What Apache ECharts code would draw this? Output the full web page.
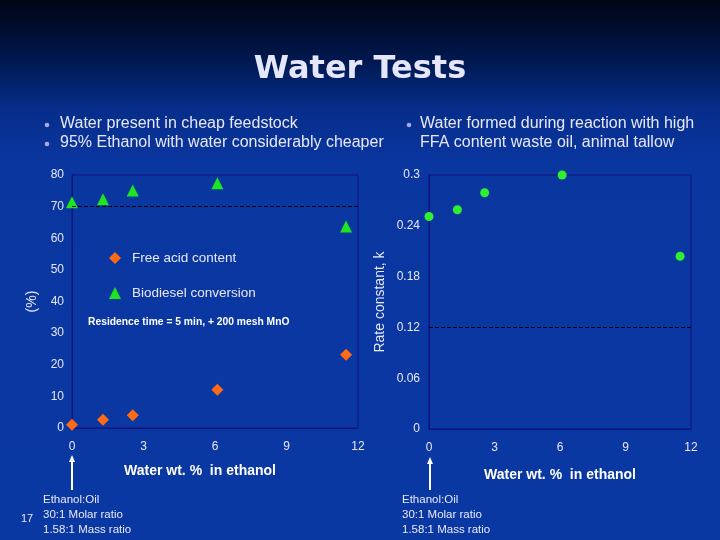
<!DOCTYPE html>
<html>
<head>
<meta charset="utf-8">
<script src="https://cdn.jsdelivr.net/npm/echarts@6/dist/echarts.min.js"></script>
<style>html,body{margin:0;padding:0;background:#0a37a0;}#c{width:720px;height:540px;}</style>
</head>
<body>
<div id="c"></div>
<script>
// ---- data ----
const waterPct = [0, 1.3, 2.55, 6.1, 11.5];
const freeAcid = [1.0, 2.6, 4.0, 12.1, 23.2];
const biodiesel = [71.4, 72.3, 75.1, 77.4, 63.7];
const rateK = [0.251, 0.259, 0.279, 0.300, 0.204];
const xTicks = [0, 3, 6, 9, 12];
const leftYTicks = [0, 10, 20, 30, 40, 50, 60, 70, 80];
const rightYTicks = [0, 0.06, 0.12, 0.18, 0.24, 0.3];
const seriesNames = ['Free acid content', 'Biodiesel conversion'];
const titleText = 'Water Tests';
const bulletsLeft = ['Water present in cheap feedstock', '95% Ethanol with water considerably cheaper'];
const bulletsRight = ['Water formed during reaction with high', 'FFA content waste oil, animal tallow'];
const noteLines = ['Ethanol:Oil', '30:1 Molar ratio', '1.58:1 Mass ratio'];
const xAxisName = 'Water wt. %  in ethanol';

const pair = (xs, ys) => xs.map((x, i) => [x, ys[i]]);

const textCol = '#e8e8f8';
const frameCol = '#12127a';
const tickFont = { color: textCol, fontFamily: 'Liberation Sans', fontSize: 12 };

const chart = echarts.init(document.getElementById('c'), null, { renderer: 'canvas' });

function arrow(x, yTip, yBase) {
  return [
    { type: 'line', shape: { x1: x, y1: yBase, x2: x, y2: yTip + 5 }, style: { stroke: '#ffffff', lineWidth: 2 } },
    { type: 'polygon', shape: { points: [[x, yTip], [x - 3, yTip + 7], [x + 3, yTip + 7]] }, style: { fill: '#ffffff' } }
  ];
}

const graphics = [
  { type: 'rect', z: -100, shape: { x: 0, y: 0, width: 720, height: 540 },
    style: { fill: new echarts.graphic.LinearGradient(0, 0, 0, 1, [
      { offset: 0, color: '#000616' }, { offset: 0.05, color: '#000c2c' },
      { offset: 0.12, color: '#001a55' }, { offset: 0.2, color: '#062d8a' },
      { offset: 0.3, color: '#0a36a0' }, { offset: 1, color: '#0a38a2' }]) } },
  { type: 'text', x: 360, y: 70, style: { text: titleText, fill: '#e6e6fa', font: 'bold 32px "DejaVu Sans"', align: 'center', verticalAlign: 'middle' } },
];
const bullet = (cx, cy) => ({ type: 'circle', shape: { cx: cx, cy: cy, r: 2.3 }, style: { fill: '#a8a8e8' } });
bulletsLeft.forEach((t, i) => {
  graphics.push(bullet(47, 125 + i * 19));
  graphics.push({ type: 'text', x: 60, y: 124 + i * 19, style: { text: t, fill: textCol, font: '16px "Liberation Sans"', verticalAlign: 'middle' } });
});
graphics.push(bullet(409, 125));
bulletsRight.forEach((t, i) => {
  graphics.push({ type: 'text', x: 420, y: 124 + i * 19, style: { text: t, fill: textCol, font: '16px "Liberation Sans"', verticalAlign: 'middle' } });
});
noteLines.forEach((t, i) => {
  graphics.push({ type: 'text', x: 43, y: 500 + i * 15, style: { text: t, fill: textCol, font: '11.5px "Liberation Sans"', verticalAlign: 'middle' } });
  graphics.push({ type: 'text', x: 402, y: 500 + i * 15, style: { text: t, fill: textCol, font: '11.5px "Liberation Sans"', verticalAlign: 'middle' } });
});
graphics.push({ type: 'text', x: 21, y: 519, style: { text: '17', fill: textCol, font: '11px "Liberation Sans"', verticalAlign: 'middle' } });
graphics.push({ type: 'text', x: 88, y: 322, style: { text: 'Residence time = 5 min, + 200 mesh MnO', fill: '#ffffff', font: 'bold 10.3px "Liberation Sans"', verticalAlign: 'middle' } });
arrow(72, 455, 490).forEach(g => graphics.push(g));
arrow(430, 457, 490).forEach(g => graphics.push(g));

const fmtK = v => String(+v.toFixed(2));

chart.setOption({
  backgroundColor: 'transparent',
  animation: false,
  graphic: graphics,
  legend: {
    data: seriesNames, orient: 'vertical', left: 104, top: 246, itemGap: 21,
    itemWidth: 12, itemHeight: 12,
    textStyle: { color: textCol, fontFamily: 'Liberation Sans', fontSize: 13.5, padding: [0, 0, 0, 6] }
  },
  grid: [
    { left: 72, top: 175, width: 286, height: 253, show: true, borderColor: frameCol, borderWidth: 1, backgroundColor: 'transparent' },
    { left: 429, top: 175, width: 262, height: 254, show: true, borderColor: frameCol, borderWidth: 1, backgroundColor: 'transparent' }
  ],
  xAxis: [
    { gridIndex: 0, type: 'value', min: xTicks[0], max: xTicks[xTicks.length - 1], interval: 3,
      name: xAxisName, nameLocation: 'middle', nameGap: 36,
      nameTextStyle: { color: '#ffffff', fontFamily: 'Liberation Sans', fontWeight: 'bold', fontSize: 14, padding: [0, 30, 0, 0] },
      axisLine: { lineStyle: { color: frameCol } }, axisTick: { show: false }, splitLine: { show: false },
      axisLabel: Object.assign({ margin: 13 }, tickFont) },
    { gridIndex: 1, type: 'value', min: xTicks[0], max: xTicks[xTicks.length - 1], interval: 3,
      name: xAxisName, nameLocation: 'middle', nameGap: 39,
      nameTextStyle: { color: '#ffffff', fontFamily: 'Liberation Sans', fontWeight: 'bold', fontSize: 14 },
      axisLine: { lineStyle: { color: frameCol } }, axisTick: { show: false }, splitLine: { show: false },
      axisLabel: Object.assign({ margin: 13 }, tickFont) }
  ],
  yAxis: [
    { gridIndex: 0, type: 'value', min: leftYTicks[0], max: leftYTicks[leftYTicks.length - 1], interval: 10,
      name: '(%)', nameLocation: 'middle', nameGap: 33, nameRotate: 90,
      nameTextStyle: { color: textCol, fontFamily: 'Liberation Sans', fontSize: 14 },
      axisLine: { show: true, lineStyle: { color: frameCol } }, axisTick: { show: false }, splitLine: { show: false },
      axisLabel: Object.assign({ margin: 8 }, tickFont) },
    { gridIndex: 1, type: 'value', min: rightYTicks[0], max: rightYTicks[rightYTicks.length - 1], interval: 0.06,
      name: 'Rate constant, k', nameLocation: 'middle', nameGap: 42, nameRotate: 90,
      nameTextStyle: { color: textCol, fontFamily: 'Liberation Sans', fontSize: 14 },
      axisLine: { show: true, lineStyle: { color: frameCol } }, axisTick: { show: false }, splitLine: { show: false },
      axisLabel: Object.assign({ margin: 9, formatter: fmtK }, tickFont) }
  ],
  series: [
    { name: seriesNames[0], type: 'scatter', xAxisIndex: 0, yAxisIndex: 0, data: pair(waterPct, freeAcid),
      symbol: 'diamond', symbolSize: 12, itemStyle: { color: '#ff6a14', opacity: 1 } },
    { name: seriesNames[1], type: 'scatter', xAxisIndex: 0, yAxisIndex: 0, data: pair(waterPct, biodiesel),
      symbol: 'triangle', symbolSize: 12, itemStyle: { color: '#1ee61e', opacity: 1 },
      markLine: { silent: true, symbol: 'none', label: { show: false },
        lineStyle: { color: '#000000', type: 'dashed', width: 1 }, data: [{ yAxis: 70 }] } },
    { name: 'Rate constant', type: 'scatter', xAxisIndex: 1, yAxisIndex: 1, data: pair(waterPct, rateK),
      symbol: 'circle', symbolSize: 9, itemStyle: { color: '#2ef02e', opacity: 1 },
      markLine: { silent: true, symbol: 'none', label: { show: false },
        lineStyle: { color: '#000000', type: 'dashed', width: 1 }, data: [{ yAxis: 0.12 }] } }
  ]
});
</script>
</body>
</html>
